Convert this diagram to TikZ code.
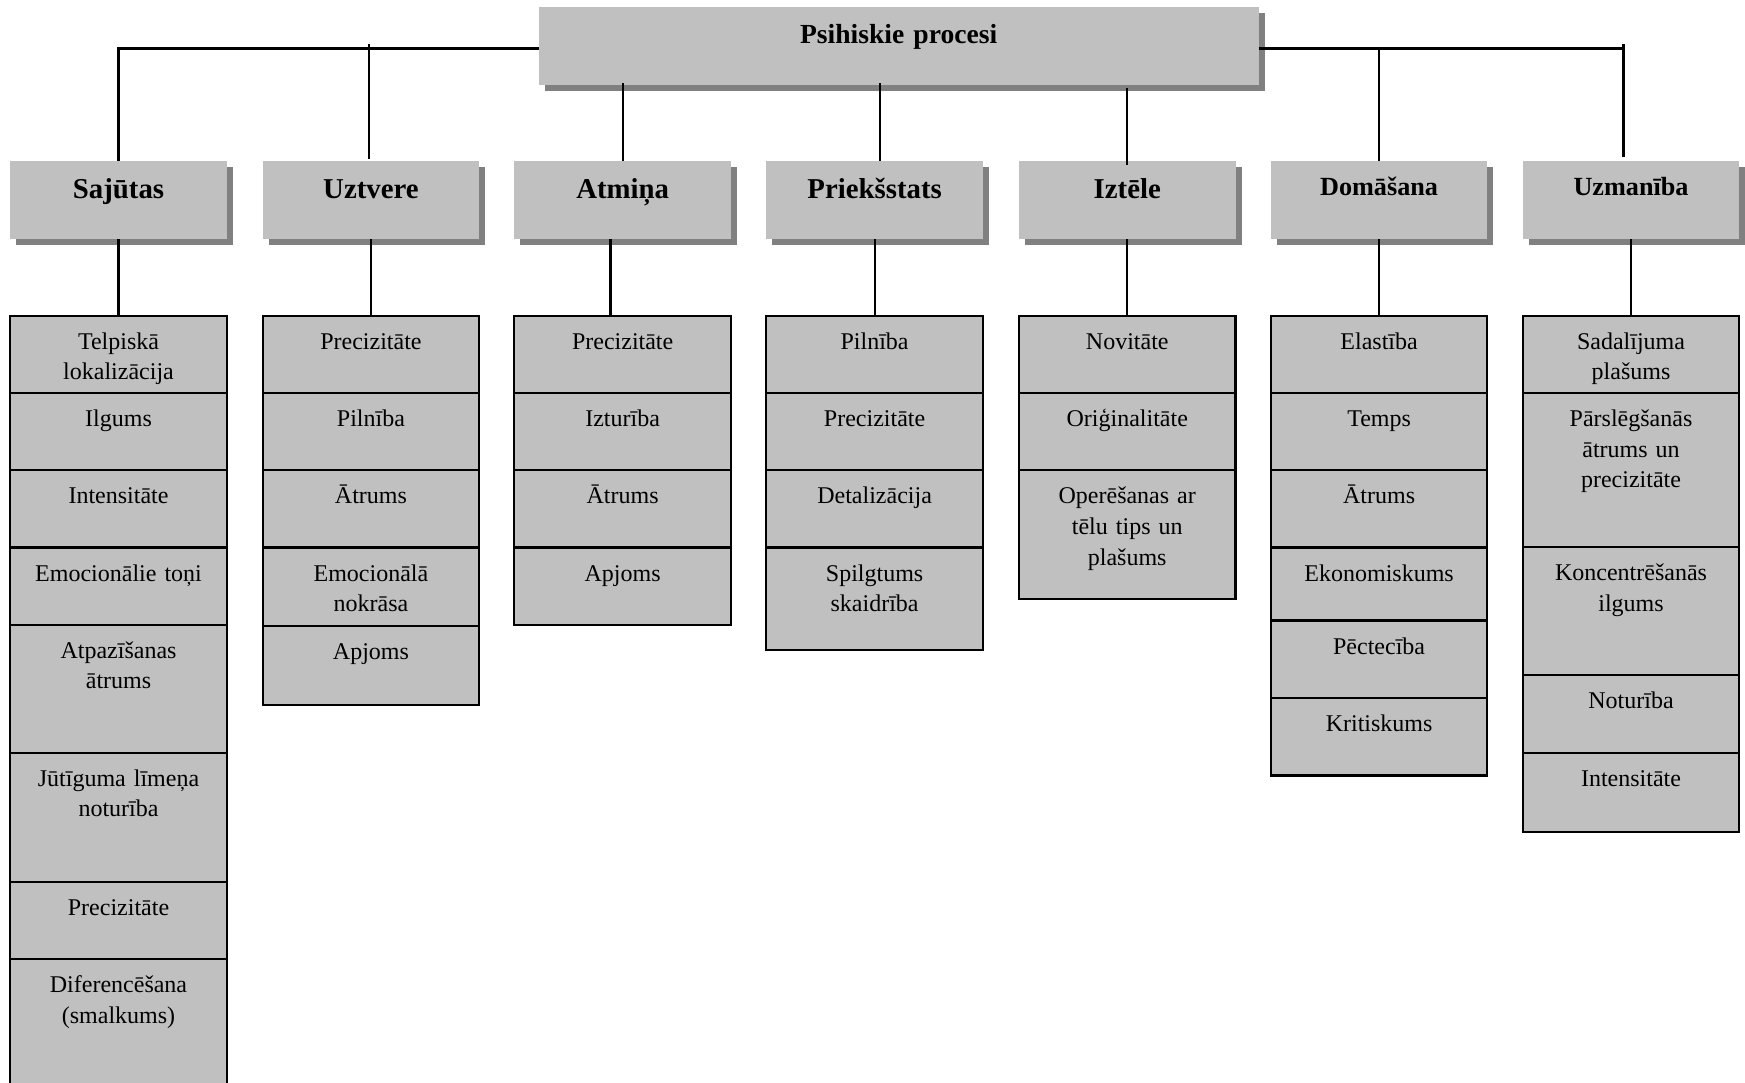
\documentclass[tikz,border=0pt]{standalone}
\usepackage{fontspec}
\setmainfont{Liberation Serif}
\usetikzlibrary{positioning}
\usetikzlibrary{shadows}
\definecolor{boxgray}{RGB}{192,192,192}
\definecolor{shadegray}{RGB}{128,128,128}

\begin{document}
\begin{tikzpicture}
    [x=0.5565pt, y=-0.5565pt,
    head/.style={fill=boxgray, text width=108.3pt, align=center, inner sep=0pt, outer sep=0pt,
        font=\bfseries\fontsize{14.4}{17}\selectfont, text height=18.8pt, text depth=20.15pt,
        drop shadow={shadow xshift=3pt, shadow yshift=-3pt, fill=shadegray, opacity=1}},
    smallhead/.style={font=\bfseries\fontsize{13.1}{16}\selectfont, text height=17.2pt, text depth=21.75pt},
    cell/.style={draw, line width=1.1pt, fill=boxgray, text width=108.3pt, align=center,
        inner sep=0pt, outer sep=0pt, font=\fontsize{12}{15.3}\selectfont,
        text height=16.8pt, text depth={#1*0.5565pt-16.8pt}},
    cell/.default=69.4,
    conn/.style={line width=1.1pt}]
    \path[use as bounding box, clip] (0,0) rectangle (1568,973);
    %\draw[step=100,gray,very thin] (0,0) grid (1568,973);
    \node[head, anchor=north, text width=360pt, font=\bfseries\fontsize{13.8}{16}\selectfont,
        text height=18pt, text depth=20.85pt] (psih) at (807.5, 6.6) {Psihiskie procesi};
    \coordinate (hl) at (0, 43.5);

    \node[head, anchor=north] (saj) at (106.5, 145) {Sajūtas};
    \node[head, anchor=north] (uzt) at (333.3, 145) {Uztvere};
    \node[head, anchor=north] (atm) at (559.5, 145) {Atmiņa};
    \node[head, anchor=north] (pri) at (785.9, 145) {Priekšstats};
    \node[head, anchor=north] (izt) at (1012.9, 145) {Iztēle};
    \node[head, smallhead, anchor=north] (dom) at (1239.2, 145) {Domāšana};
    \node[head, smallhead, anchor=north] (uzm) at (1465.6, 145) {Uzmanība};

    % Sajutas
    \node[cell=69.6, anchor=north] (saj1) at (106.5, 283.6) {Telpiskā\\lokalizācija};
    \node[cell, below=0pt of saj1] (saj2) {Ilgums};
    \node[cell, below=0pt of saj2] (saj3) {Intensitāte};
    \node[cell, below=0pt of saj3] (saj4) {Emocionālie toņi};
    \node[cell=115, below=0pt of saj4] (saj5) {Atpazīšanas\\ātrums};
    \node[cell=115.9, below=0pt of saj5] (saj6) {Jūtīguma līmeņa\\noturība};
    \node[cell=69.5, below=0pt of saj6] (saj7) {Precizitāte};
    \node[cell=116, below=0pt of saj7] (saj8) {Diferencēšana\\(smalkums)};

    % Uztvere
    \node[cell=69.6, anchor=north] (uzt1) at (333.3, 283.6) {Precizitāte};
    \node[cell, below=0pt of uzt1] (uzt2) {Pilnība};
    \node[cell, below=0pt of uzt2] (uzt3) {Ātrums};
    \node[cell=70.4, below=0pt of uzt3] (uzt4) {Emocionālā\\nokrāsa};
    \node[cell=71.3, below=0pt of uzt4] (uzt5) {Apjoms};

    % Atmina
    \node[cell=69.6, anchor=north] (atm1) at (559.5, 283.6) {Precizitāte};
    \node[cell, below=0pt of atm1] (atm2) {Izturība};
    \node[cell, below=0pt of atm2] (atm3) {Ātrums};
    \node[cell=69.5, below=0pt of atm3] (atm4) {Apjoms};

    % Prieksstats
    \node[cell=69.6, anchor=north] (pri1) at (785.9, 283.6) {Pilnība};
    \node[cell, below=0pt of pri1] (pri2) {Precizitāte};
    \node[cell, below=0pt of pri2] (pri3) {Detalizācija};
    \node[cell=92.2, below=0pt of pri3] (pri4) {Spilgtums\\skaidrība};

    % Iztele
    \node[cell=69.6, anchor=north] (izt1) at (1012.9, 283.6) {Novitāte};
    \node[cell, below=0pt of izt1] (izt2) {Oriģinalitāte};
    \node[cell=115.4, below=0pt of izt2] (izt3) {Operēšanas ar\\tēlu tips un\\plašums};

    % Domasana
    \node[cell=69.6, anchor=north] (dom1) at (1239.2, 283.6) {Elastība};
    \node[cell, below=0pt of dom1] (dom2) {Temps};
    \node[cell, below=0pt of dom2] (dom3) {Ātrums};
    \node[cell=65.5, below=0pt of dom3] (dom4) {Ekonomiskums};
    \node[cell=69.6, below=0pt of dom4] (dom5) {Pēctecība};
    \node[cell=69.7, below=0pt of dom5] (dom6) {Kritiskums};

    % Uzmaniba
    \node[cell=69.6, anchor=north] (uzm1) at (1465.6, 283.6) {Sadalījuma\\plašums};
    \node[cell=138.5, below=0pt of uzm1] (uzm2) {Pārslēgšanās\\ātrums un\\precizitāte};
    \node[cell=115.1, below=0pt of uzm2] (uzm3) {Koncentrēšanās\\ilgums};
    \node[cell=69.6, below=0pt of uzm3] (uzm4) {Noturība};
    \node[cell=71.2, below=0pt of uzm4] (uzm5) {Intensitāte};

    \draw[conn] (psih.west |- hl) -| (saj.north);
    \draw[conn] (psih.east |- hl) -- ([xshift=-3.8pt]uzm.north |- hl);
    \draw[conn] ([xshift=-1pt, yshift=2pt]uzt.north |- hl) -- ([xshift=-1pt, yshift=1pt]uzt.north);
    \draw[conn] ([xshift=-3.8pt, yshift=2.3pt]uzm.north |- hl) -- ([xshift=-3.8pt, yshift=2pt]uzm.north);
    \draw[conn] (dom.north |- hl) -- (dom.north);
    \draw[conn] ([yshift=1pt]atm.north |- psih.south) -- (atm.north);
    \draw[conn] ([xshift=2.7pt, yshift=1pt]pri.north |- psih.south) -- ([xshift=2.7pt]pri.north);
    \draw[conn] ([yshift=-1.6pt]izt.north |- psih.south) -- ([yshift=-2pt]izt.north);

    \draw[conn] (saj.south) -- (saj1.north);
    \draw[conn] (uzt.south) -- (uzt1.north);
    \draw[conn] ([xshift=-6.1pt]atm.south) -- ([xshift=-6.1pt]atm1.north);
    \draw[conn] (pri.south) -- (pri1.north);
    \draw[conn] (izt.south) -- (izt1.north);
    \draw[conn] (dom.south) -- (dom1.north);
    \draw[conn] (uzm.south) -- (uzm1.north);
\end{tikzpicture}
\end{document}
